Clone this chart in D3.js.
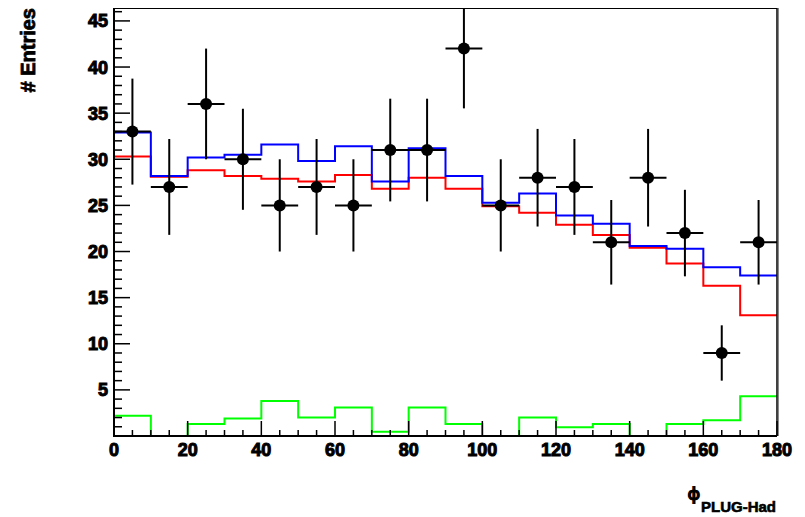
<!DOCTYPE html>
<html><head><meta charset="utf-8">
<script src="https://cdn.jsdelivr.net/npm/d3@7"></script>
<style>body{margin:0;background:#fff}svg{display:block}text{font-family:"Liberation Sans",Arial,sans-serif;font-weight:bold}</style>
</head><body><svg id="c" width="805" height="517"></svg>
<script>
const binEdges = [0,10,20,30,40,50,60,70,80,90,100,110,120,130,140,150,160,170,180];
const dataCounts = [33,27,36,30,25,27,25,31,31,42,25,28,27,21,28,22,9,21];
const blueHist = [32.9,28.2,30.2,30.5,31.6,29.8,31.4,27.6,31.2,28.2,25.3,26.3,23.9,23.0,20.6,20.3,18.3,17.4];
const redHist = [30.3,28.1,28.8,28.2,27.9,27.6,28.3,26.8,28.0,26.8,24.9,24.2,22.9,21.8,20.4,18.7,16.3,13.1];
const greenHist = [2.2,0,1.3,1.9,3.8,2.0,3.1,0.45,3.1,1.3,0,2.0,0.95,1.3,0,1.3,1.7,4.3];
const yTickLabels = [5,10,15,20,25,30,35,40,45];
const xTickLabels = [0,20,40,60,80,100,120,140,160,180];

const svg = d3.select("#c");
const L=114, R=777, T=8, B=436;
const x = d3.scaleLinear().domain([0,180]).range([L,R]);
const y = d3.scaleLinear().domain([0,46.4]).range([B,T]);

svg.append("defs").append("clipPath").attr("id","clip")
  .append("rect").attr("x",L).attr("y",T).attr("width",R-L).attr("height",B-T);
const g = svg.append("g").attr("clip-path","url(#clip)");

function histPath(vals){
  let p = d3.path();
  p.moveTo(x(binEdges[0]), y(vals[0]));
  vals.forEach((v,i)=>{ p.lineTo(x(binEdges[i]), y(v)); p.lineTo(x(binEdges[i+1]), y(v)); });
  return p.toString();
}
[[redHist,"#ff0000"],[blueHist,"#0000ff"],[greenHist,"#00ff00"]].forEach(([v,c])=>{
  g.append("path").attr("d",histPath(v)).attr("fill","none").attr("stroke",c).attr("stroke-width",2);
});

// data points
const pts = g.append("g");
dataCounts.forEach((n,i)=>{
  const cx = x((binEdges[i]+binEdges[i+1])/2), e = Math.sqrt(n);
  pts.append("line").attr("x1",cx).attr("x2",cx).attr("y1",y(n+e)).attr("y2",y(n-e)).attr("stroke","#000").attr("stroke-width",2);
  pts.append("line").attr("x1",x(binEdges[i])).attr("x2",x(binEdges[i+1])).attr("y1",y(n)).attr("y2",y(n)).attr("stroke","#000").attr("stroke-width",2);
  pts.append("circle").attr("cx",cx).attr("cy",y(n)).attr("r",6).attr("fill","#000");
});

// frame
svg.append("line").attr("x1",L).attr("x2",R).attr("y1",T+0.5).attr("y2",T+0.5).attr("stroke","#000").attr("stroke-width",1);
svg.append("line").attr("x1",R).attr("x2",R).attr("y1",T).attr("y2",B).attr("stroke","#000").attr("stroke-width",1.5);
svg.append("line").attr("x1",R+1.5).attr("x2",R+1.5).attr("y1",T).attr("y2",B).attr("stroke","#888").attr("stroke-width",1);

// y axis
const yAx = svg.append("g").attr("transform",`translate(${L},0)`);
yAx.append("line").attr("x1",0).attr("x2",0).attr("y1",T).attr("y2",B+1).attr("stroke","#000").attr("stroke-width",2);
d3.range(0,47,1).forEach(v=>{
  const major = v%5===0;
  yAx.append("line").attr("x1",0).attr("x2",major?16:8).attr("y1",y(v)).attr("y2",y(v)).attr("stroke","#000").attr("stroke-width",1.5);
});
yAx.selectAll("text.yl").data(yTickLabels).join("text").attr("class","yl")
  .attr("x",-6).attr("y",d=>y(d)).attr("dy","0.36em").attr("text-anchor","end")
  .attr("font-size",18).attr("stroke","#000").attr("stroke-width",1).text(d=>d);

// x axis
const xAx = svg.append("g").attr("transform",`translate(0,${B})`);
xAx.append("line").attr("x1",L).attr("x2",R).attr("y1",0).attr("y2",0).attr("stroke","#000").attr("stroke-width",2);
d3.range(0,181,5).forEach(v=>{
  const major = v%20===0;
  xAx.append("line").attr("x1",x(v)).attr("x2",x(v)).attr("y1",0).attr("y2",major?-15:-6).attr("stroke","#000").attr("stroke-width",1.5);
});
xAx.selectAll("text.xl").data(xTickLabels).join("text").attr("class","xl")
  .attr("x",d=>x(d)).attr("y",20).attr("text-anchor","middle")
  .attr("font-size",18).attr("stroke","#000").attr("stroke-width",1).text(d=>d);

// titles
svg.append("text").attr("transform","translate(35,8) rotate(-90)").attr("text-anchor","end")
  .attr("font-size",20).attr("stroke","#000").attr("stroke-width",0.8).text("# Entries");
const xt = svg.append("text").attr("x",776).attr("y",500).attr("text-anchor","end").attr("font-size",18);
xt.append("tspan").attr("font-family","DejaVu Sans").text("ϕ");
xt.append("tspan").attr("dy",12).attr("font-size",15).attr("stroke","#000").attr("stroke-width",0.6).text("PLUG-Had");
</script></body></html>
